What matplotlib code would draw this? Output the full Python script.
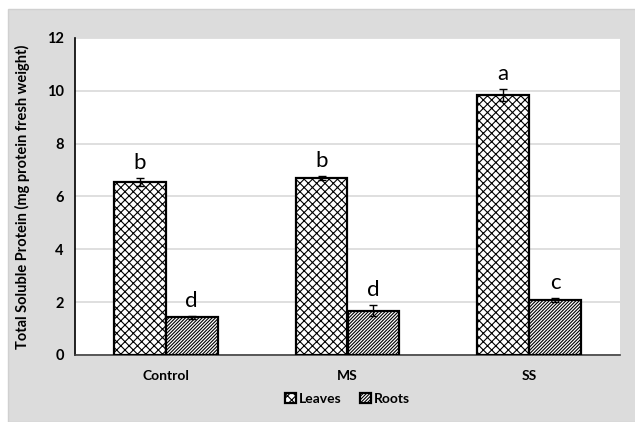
import numpy as np
import matplotlib.pyplot as plt
from matplotlib.patches import Rectangle

plt.rcParams['font.family'] = ['Lato', 'DejaVu Sans']
plt.rcParams['hatch.linewidth'] = 0.8

# data
groups = ['Control', 'MS', 'SS']
leaves = [6.55, 6.70, 9.85]
leaves_err = [0.15, 0.06, 0.22]
roots = [1.42, 1.68, 2.07]
roots_err = [0.04, 0.22, 0.08]
leaves_letters = ['b', 'b', 'a']
roots_letters = ['d', 'd', 'c']

fig = plt.figure(figsize=(6.35, 4.22), dpi=100)
# grey chart-area background
fig.patches.append(Rectangle((8 / 635, 0), 1, 1 - 9 / 422, transform=fig.transFigure,
                             facecolor='#dcdcdc', edgecolor='#d0d0d0', zorder=-10))
ax = fig.add_axes([75 / 635, 1 - 355 / 422, 545 / 635, 317 / 422])
ax.set_facecolor('white')

x = np.arange(len(groups))
w = 0.286
ax.bar(x - w / 2, leaves, w, color='white', edgecolor='black', linewidth=1.6,
       hatch='xxxx', label='Leaves', zorder=3)
ax.bar(x + w / 2, roots, w, color='white', edgecolor='black', linewidth=1.6,
       hatch='//////////', label='Roots', zorder=3)
ax.errorbar(x - w / 2, leaves, yerr=leaves_err, fmt='none', ecolor='black',
            elinewidth=1, capsize=3, zorder=4)
ax.errorbar(x + w / 2, roots, yerr=roots_err, fmt='none', ecolor='black',
            elinewidth=1, capsize=3, zorder=4)

for i in range(len(groups)):
    ax.text(x[i] - w / 2, leaves[i] + leaves_err[i] + 0.2, leaves_letters[i],
            ha='center', va='bottom', fontsize=16)
    ax.text(x[i] + w / 2, roots[i] + roots_err[i] + 0.2, roots_letters[i],
            ha='center', va='bottom', fontsize=16)

ax.set_xlim(-0.5, 2.5)
ax.set_ylim(0, 12)
ax.set_yticks(range(0, 13, 2))
ax.set_xticks(x)
ax.set_xticklabels(groups, fontweight='bold', fontsize=10)
for lab in ax.get_yticklabels():
    lab.set_fontweight('bold')
    lab.set_fontsize(10.5)
ax.tick_params(length=0, pad=8)
ax.tick_params(axis='x', pad=11)
ax.yaxis.grid(True, color='#d9d9d9', linewidth=1.2, zorder=0)
ax.set_axisbelow(True)
for s in ['top', 'right']:
    ax.spines[s].set_visible(False)
ax.spines['left'].set_linewidth(1.2)
ax.spines['bottom'].set_linewidth(1.2)
ax.spines['bottom'].set_color('#404040')
ax.set_ylabel('Total Soluble Protein (mg protein fresh weight)', fontweight='bold',
              fontsize=10.5, labelpad=12)

leg = ax.legend(loc='upper center', bbox_to_anchor=(0.5, -0.08), ncol=2, frameon=False,
                handlelength=0.8, handleheight=0.8, handletextpad=0.2, columnspacing=1.3,
                prop={'weight': 'bold', 'size': 10})

fig.savefig('out.png', dpi=100)
